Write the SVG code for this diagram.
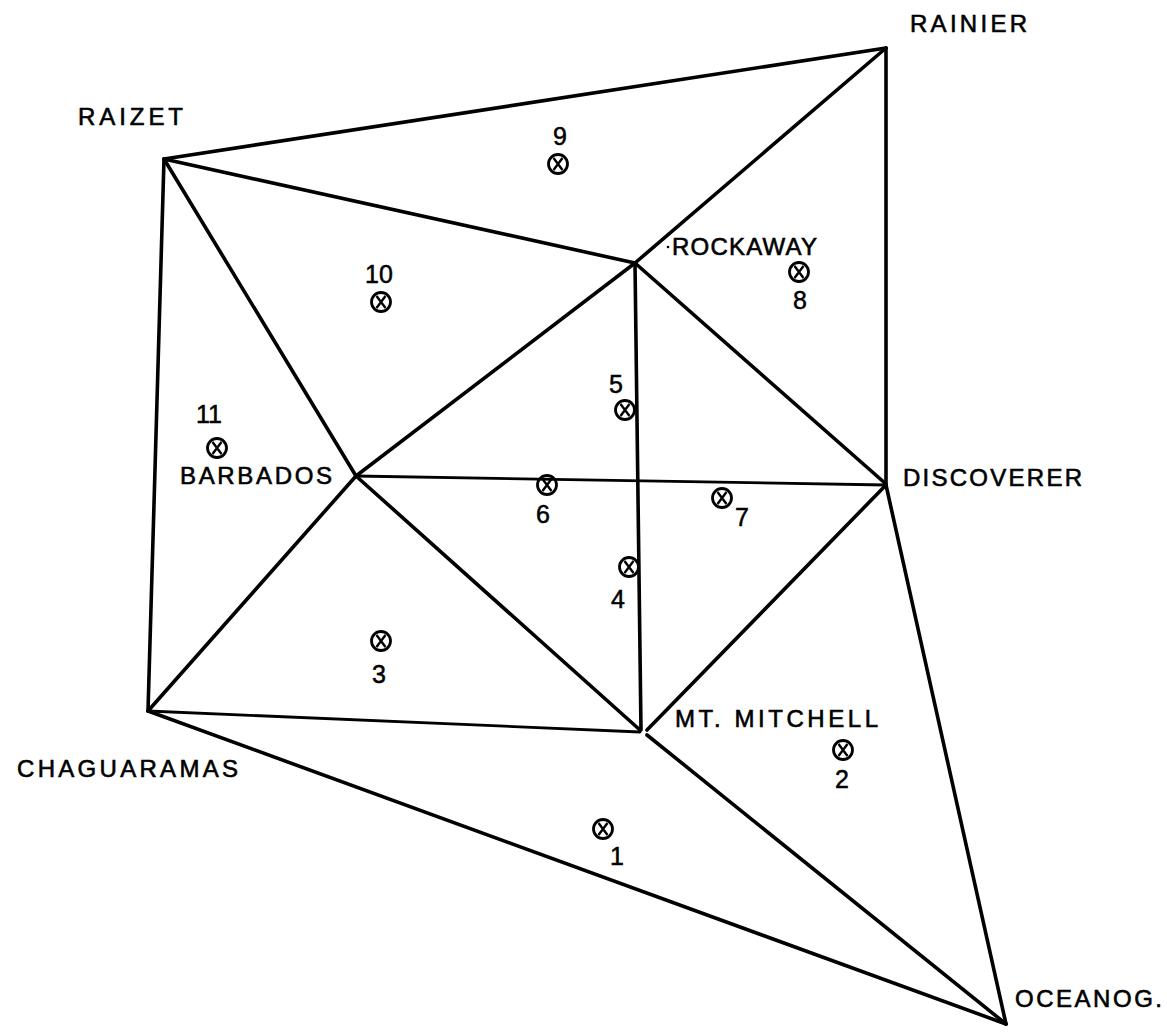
<svg xmlns="http://www.w3.org/2000/svg" width="1167" height="1036" viewBox="0 0 1167 1036">
<defs>
<style>
.e{stroke:#000;stroke-width:3.6;stroke-linecap:round;fill:none}
.t{stroke-width:2.8}
.l{font-family:"Liberation Sans",Arial,sans-serif;font-size:24px;fill:#000;stroke:#000;stroke-width:0.6}
.n{font-family:"Liberation Sans",Arial,sans-serif;font-size:25px;fill:#000;stroke:#000;stroke-width:0.5;text-anchor:middle}
</style>
<g id="pt">
<circle r="9.5" cx="0" cy="0" fill="none" stroke="#000" stroke-width="2.8"/>
<path d="M-4.5,-6 L4.5,6 M4.5,-6 L-4.5,6" fill="none" stroke="#000" stroke-width="2.4"/>
</g>
</defs>
<rect width="1167" height="1036" fill="#fff"/>
<g id="connectors">
<line class="e" x1="164" y1="159" x2="886" y2="48"/>
<line class="e" x1="886" y1="48" x2="635" y2="263"/>
<line class="e" x1="886" y1="48" x2="886" y2="484"/>
<line class="e" x1="164" y1="159" x2="635" y2="263"/>
<line class="e" x1="164" y1="159" x2="356" y2="476"/>
<line class="e" x1="164" y1="159" x2="148" y2="711"/>
<line class="e" x1="635" y1="263" x2="356" y2="476"/>
<line class="e" x1="635" y1="263" x2="886" y2="484"/>
<line class="e" x1="635" y1="263" x2="641" y2="730"/>
<line class="e t" x1="356" y1="476" x2="886" y2="485"/>
<line class="e" x1="356" y1="476" x2="640" y2="730"/>
<line class="e" x1="356" y1="476" x2="148" y2="711"/>
<line class="e t" x1="148" y1="711" x2="640" y2="732"/>
<line class="e" x1="148" y1="711" x2="1006" y2="1024"/>
<line class="e" x1="647" y1="730" x2="886" y2="485"/>
<line class="e" x1="647" y1="735" x2="1006" y2="1024"/>
<line class="e" x1="886" y1="485" x2="1006" y2="1024"/>
</g>
<g id="raizet"><text class="l" x="78" y="125" textLength="105" lengthAdjust="spacing">RAIZET</text></g>
<g id="rainier"><text class="l" x="910" y="32" textLength="117" lengthAdjust="spacing">RAINIER</text></g>
<g id="rockaway"><circle cx="668" cy="247" r="1.3" fill="#000"/><text class="l" x="672" y="255" textLength="145" lengthAdjust="spacing">ROCKAWAY</text></g>
<g id="barbados"><text class="l" x="180" y="484" textLength="152" lengthAdjust="spacing">BARBADOS</text></g>
<g id="discoverer"><text class="l" x="903" y="486" textLength="179" lengthAdjust="spacing">DISCOVERER</text></g>
<g id="chaguaramas"><text class="l" x="17" y="777" textLength="221" lengthAdjust="spacing">CHAGUARAMAS</text></g>
<g id="mtmitchell"><text class="l" x="675" y="727" textLength="203" lengthAdjust="spacing">MT. MITCHELL</text></g>
<g id="oceanog"><text class="l" x="1015" y="1007" textLength="147" lengthAdjust="spacing">OCEANOG.</text></g>
<g id="p1"><use href="#pt" x="603" y="829"/><text class="n" x="617" y="865">1</text></g>
<g id="p2"><use href="#pt" x="843" y="750"/><text class="n" x="842" y="788">2</text></g>
<g id="p3"><use href="#pt" x="381" y="641"/><text class="n" x="379" y="683">3</text></g>
<g id="p4"><use href="#pt" x="629" y="567"/><text class="n" x="618" y="608">4</text></g>
<g id="p5"><use href="#pt" x="625" y="410"/><text class="n" x="616" y="393">5</text></g>
<g id="p6"><use href="#pt" x="547" y="485"/><text class="n" x="543" y="523">6</text></g>
<g id="p7"><use href="#pt" x="722" y="498"/><text class="n" x="742" y="526">7</text></g>
<g id="p8"><use href="#pt" x="799" y="272"/><text class="n" x="800" y="309">8</text></g>
<g id="p9"><use href="#pt" x="558" y="164"/><text class="n" x="560" y="145">9</text></g>
<g id="p10"><use href="#pt" x="381" y="302"/><text class="n" x="379" y="283">10</text></g>
<g id="p11"><use href="#pt" x="217" y="448"/><text class="n" x="209" y="423">11</text></g>
</svg>
